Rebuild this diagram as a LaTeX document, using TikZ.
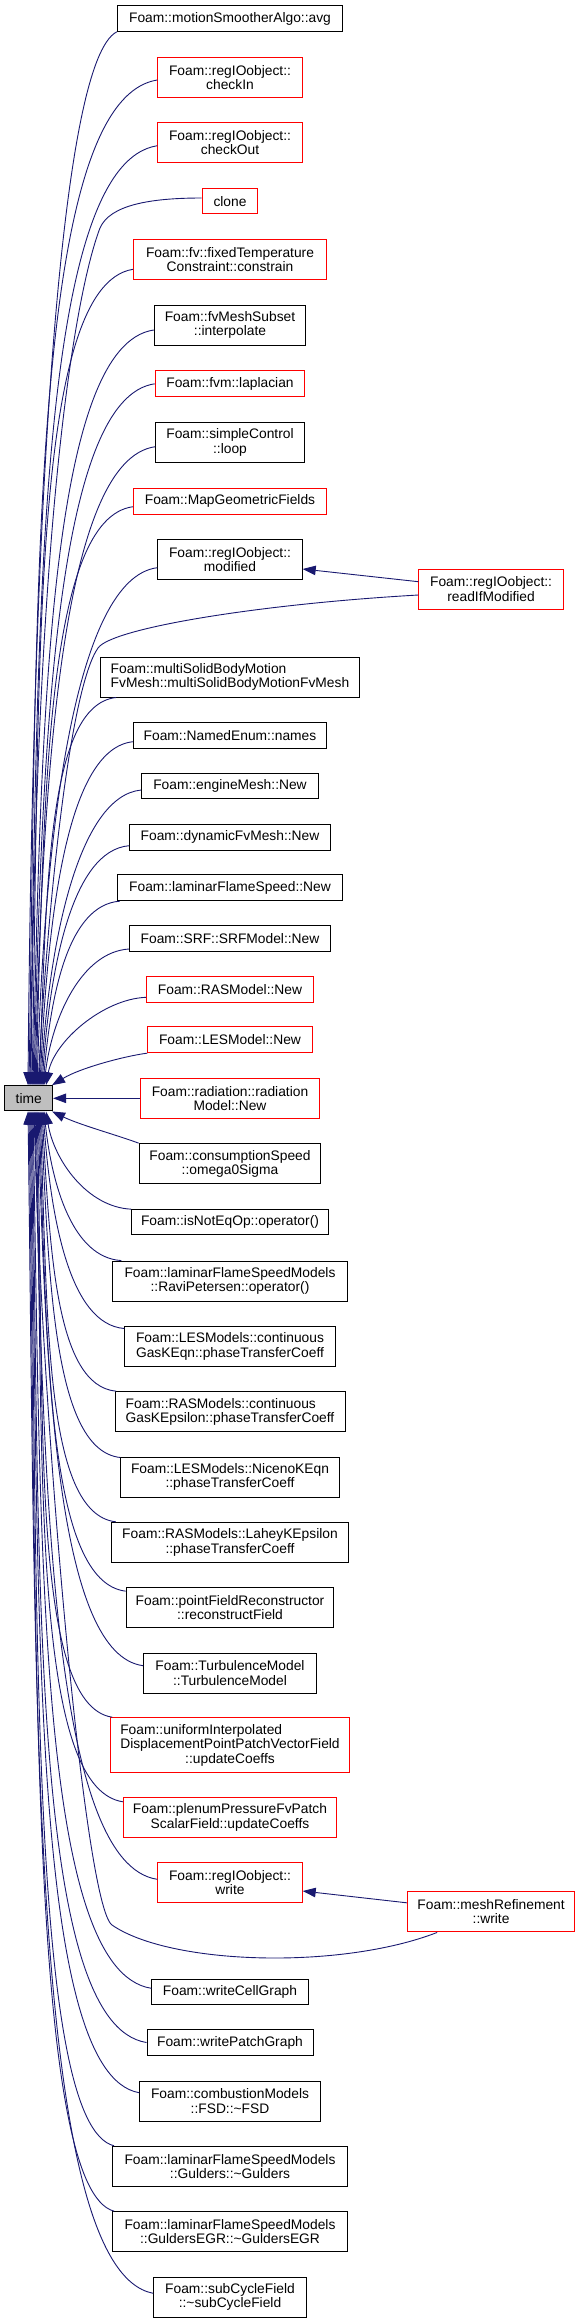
\documentclass[tikz,border=0pt]{standalone}
\usepackage{fontspec}
\setmainfont{Liberation Sans}
\usetikzlibrary{calc,arrows.meta}
\definecolor{edgecol}{HTML}{191970}
\definecolor{timefill}{HTML}{BFBFBF}
\definecolor{boxred}{HTML}{FF0000}
% caller edge: leaves the caller to the left, bends and runs steeply into the target
\newcommand\fanedge[3]{\draw[calleredge] let \p1=(#1), \p2=(#2), \n1={(#3)*(\y1-\y2)} in (\p1) .. controls ({max(30pt,\x1-0.09*\n1-35pt)},{\y1-(#3)*0.02*\n1}) and ({\x2+8pt},{\y2+(#3)*0.5*\n1}) .. (\p2);}
\begin{document}
\begin{tikzpicture}[x=1pt,y=-1pt,
  nbox/.style={draw=black, fill=white, line width=1pt, inner sep=0pt, align=center, font=\fontsize{13.8}{14.4}\selectfont},
  rbox/.style={nbox, draw=boxred},
  calleredge/.style={draw=edgecol, line width=0.9pt, -{Triangle[length=13pt,width=9.5pt]}}]
\useasboundingbox (0,0) rectangle (575,2323);
% nodes
\node[nbox, minimum width=225.2pt, minimum height=25.6pt] (avg) at (230,18.5) {Foam::motionSmootherAlgo::avg};
\node[rbox, minimum width=144.4pt, minimum height=40pt] (checkIn) at (230,77.3) {Foam::regIOobject::\\checkIn};
\node[rbox, minimum width=144.4pt, minimum height=40.4pt] (checkOut) at (230,142.5) {Foam::regIOobject::\\checkOut};
\node[rbox, minimum width=55.6pt, minimum height=25.3pt] (clone) at (230,201.3) {clone};
\node[rbox, minimum width=193pt, minimum height=40.3pt] (fixedT) at (230,259.8) {Foam::fv::fixedTemperature\\Constraint::constrain};
\node[nbox, minimum width=151.5pt, minimum height=40.3pt] (fvMesh) at (230,325.2) {Foam::fvMeshSubset\\::interpolate};
\node[rbox, minimum width=149.6pt, minimum height=25.7pt] (laplacian) at (230,383.8) {Foam::fvm::laplacian};
\node[nbox, minimum width=148.5pt, minimum height=39.6pt] (simpleControl) at (230,442.5) {Foam::simpleControl\\::loop};
\node[rbox, minimum width=193pt, minimum height=25.7pt] (mapGeo) at (230,501.2) {Foam::MapGeometricFields};
\node[nbox, minimum width=144.4pt, minimum height=40.3pt] (modified) at (230,559.8) {Foam::regIOobject::\\modified};
\node[rbox, minimum width=144.4pt, minimum height=40.3pt] (readIf) at (491.1,589.2) {Foam::regIOobject::\\readIfModified};
\node[nbox, align=left, minimum width=258.9pt, minimum height=40pt] (multiSolid) at (230,677) {Foam::multiSolidBodyMotion\\FvMesh::multiSolidBodyMotionFvMesh};
\node[nbox, minimum width=193pt, minimum height=25.7pt] (namedEnum) at (230,735.8) {Foam::NamedEnum::names};
\node[nbox, minimum width=176.6pt, minimum height=25.3pt] (engineMesh) at (230,786.3) {Foam::engineMesh::New};
\node[nbox, minimum width=200.8pt, minimum height=25.7pt] (dynMesh) at (230,837.2) {Foam::dynamicFvMesh::New};
\node[nbox, minimum width=225.2pt, minimum height=25.7pt] (lamFS) at (230,887.8) {Foam::laminarFlameSpeed::New};
\node[nbox, minimum width=200.8pt, minimum height=25.6pt] (srf) at (230,938.5) {Foam::SRF::SRFModel::New};
\node[rbox, minimum width=167pt, minimum height=25.7pt] (rasNew) at (230,989.2) {Foam::RASModel::New};
\node[rbox, minimum width=164.4pt, minimum height=25.7pt] (lesNew) at (230,1039.8) {Foam::LESModel::New};
\node[rbox, minimum width=179.2pt, minimum height=40pt] (radiation) at (230,1098.3) {Foam::radiation::radiation\\Model::New};
\node[nbox, fill=timefill, minimum width=47.8pt, minimum height=25.3pt] (time) at (28.7,1098.3) {time};
\node[nbox, minimum width=181.8pt, minimum height=40.3pt] (consumption) at (230,1163.8) {Foam::consumptionSpeed\\::omega0Sigma};
\node[nbox, minimum width=196.6pt, minimum height=25.3pt] (isNotEq) at (230,1222.3) {Foam::isNotEqOp::operator()};
\node[nbox, minimum width=234.4pt, minimum height=40.3pt] (ravi) at (230,1281.2) {Foam::laminarFlameSpeedModels\\::RaviPetersen::operator()};
\node[nbox, align=left, minimum width=210.4pt, minimum height=40.4pt] (lesCont) at (230,1346.5) {Foam::LESModels::continuous\\GasKEqn::phaseTransferCoeff};
\node[nbox, align=left, minimum width=230pt, minimum height=40.3pt] (rasCont) at (230,1411.8) {Foam::RASModels::continuous\\GasKEpsilon::phaseTransferCoeff};
\node[nbox, minimum width=218.2pt, minimum height=40pt] (niceno) at (230,1477) {Foam::LESModels::NicenoKEqn\\::phaseTransferCoeff};
\node[nbox, minimum width=237.4pt, minimum height=40pt] (lahey) at (230,1542.3) {Foam::RASModels::LaheyKEpsilon\\::phaseTransferCoeff};
\node[nbox, minimum width=207.8pt, minimum height=40.3pt] (pointField) at (230,1607.8) {Foam::pointFieldReconstructor\\::reconstructField};
\node[nbox, minimum width=172.6pt, minimum height=40pt] (turb) at (230,1673) {Foam::TurbulenceModel\\::TurbulenceModel};
\node[rbox, minimum width=239.6pt, minimum height=55pt] (uniform) at (230,1745.2) {\rlap{Foam::uniformInterpolated}\phantom{DisplacementPointPatchVectorField}\\DisplacementPointPatchVectorField\\::updateCoeffs};
\node[rbox, minimum width=213pt, minimum height=40pt] (plenum) at (230,1817.3) {Foam::plenumPressureFvPatch\\ScalarField::updateCoeffs};
\node[rbox, minimum width=144.4pt, minimum height=40pt] (regWrite) at (230,1882.3) {Foam::regIOobject::\\write};
\node[rbox, minimum width=167.4pt, minimum height=40.3pt] (meshRef) at (491.1,1911.8) {Foam::meshRefinement\\::write};
\node[nbox, minimum width=156.2pt, minimum height=25.3pt] (writeCell) at (230,1991.7) {Foam::writeCellGraph};
\node[nbox, minimum width=166pt, minimum height=25.6pt] (writePatch) at (230,2042.5) {Foam::writePatchGraph};
\node[nbox, minimum width=180.8pt, minimum height=40pt] (fsd) at (230,2101) {Foam::combustionModels\\::FSD::\textasciitilde FSD};
\node[nbox, minimum width=234.4pt, minimum height=40.4pt] (gulders) at (230,2166.5) {Foam::laminarFlameSpeedModels\\::Gulders::\textasciitilde Gulders};
\node[nbox, minimum width=234.4pt, minimum height=40.3pt] (guldersEGR) at (230,2231.8) {Foam::laminarFlameSpeedModels\\::GuldersEGR::\textasciitilde GuldersEGR};
\node[nbox, minimum width=152.6pt, minimum height=40pt] (subCycle) at (230,2297) {Foam::subCycleField\\::\textasciitilde subCycleField};
% upper edges
\draw[calleredge] (avg.south west) .. controls (60,60) and (33,500) .. ([xshift=-0.7pt]time.north);
\fanedge{[yshift=-2.7pt]checkIn.west}{[xshift=0.3pt]time.north}{1}
\fanedge{[yshift=-3.2pt]checkOut.west}{[xshift=1.3pt]time.north}{1}
\draw[calleredge] ([yshift=3.3pt]clone.west) .. controls (150,198) and (110,205) .. (100,228) .. controls (80,280) and (36,480) .. ([xshift=2.3pt]time.north);
\fanedge{[yshift=-9.5pt]fixedT.west}{[xshift=3.3pt]time.north}{1}
\fanedge{[yshift=-4.8pt]fvMesh.west}{[xshift=4.3pt]time.north}{1}
\fanedge{laplacian.west}{[xshift=5.3pt]time.north}{1}
\fanedge{[yshift=-4.2pt]simpleControl.west}{[xshift=6.3pt]time.north}{1}
\fanedge{[yshift=-5.5pt]mapGeo.west}{[xshift=7.3pt]time.north}{1}
\fanedge{[yshift=-7.9pt]modified.west}{[xshift=8.3pt]time.north}{1}
\draw[calleredge] ([yshift=-5.8pt]readIf.west) .. controls (260,604) and (112,628) .. (98,648) .. controls (70,688) and (48,900) .. ([xshift=9.3pt]time.north);
\fanedge{[xshift=16pt]multiSolid.south west}{[xshift=10.3pt]time.north}{1}
\fanedge{[yshift=-5.9pt]namedEnum.west}{[xshift=11.3pt]time.north}{1}
\fanedge{[yshift=-3.7pt]engineMesh.west}{[xshift=12.3pt]time.north}{1}
\fanedge{[yshift=-8.5pt]dynMesh.west}{[xshift=13.3pt]time.north}{1}
\fanedge{[xshift=3pt]lamFS.south west}{[xshift=14.3pt]time.north}{1}
\fanedge{[yshift=-10.5pt]srf.west}{[xshift=15.3pt]time.north}{1}
\fanedge{[yshift=-8.1pt]rasNew.west}{[xshift=17.3pt]time.north}{1}
\draw[calleredge] (lesNew.south west) .. controls (125,1056) and (80,1068) .. ([xshift=-1pt]time.north east);
\draw[calleredge] (radiation.west) -- (time.east);
% lower edges
\draw[calleredge] (consumption.north west) .. controls (120,1136) and (80,1125) .. ([xshift=-1pt]time.south east);
\fanedge{isNotEq.north west}{[xshift=17.3pt]time.south}{-1}
\fanedge{[xshift=9pt]ravi.north west}{[xshift=15.3pt]time.south}{-1}
\fanedge{[yshift=-2.7pt]lesCont.north west}{[xshift=14.3pt]time.south}{-1}
\fanedge{[xshift=1.5pt]rasCont.north west}{[xshift=13.3pt]time.south}{-1}
\fanedge{[yshift=-1pt]niceno.north west}{[xshift=12.3pt]time.south}{-1}
\fanedge{[xshift=5pt]lahey.north west}{[xshift=11.3pt]time.south}{-1}
\fanedge{[yshift=-4pt]pointField.north west}{[xshift=10.3pt]time.south}{-1}
\fanedge{[yshift=7.3pt]turb.west}{[xshift=9.3pt]time.south}{-1}
\fanedge{[xshift=2.6pt]uniform.north west}{[xshift=8.3pt]time.south}{-1}
\fanedge{[yshift=-5pt]plenum.north west}{[xshift=7.3pt]time.south}{-1}
\fanedge{[yshift=3pt]regWrite.west}{[xshift=6.3pt]time.south}{-1}
\draw[calleredge] ([xshift=-54pt]meshRef.south) .. controls (340,1970) and (170,1965) .. (112,1925) .. controls (84,1905) and (42,1420) .. ([xshift=5.3pt]time.south);
\fanedge{[yshift=3.4pt]writeCell.west}{[xshift=4.3pt]time.south}{-1}
\fanedge{writePatch.west}{[xshift=3.3pt]time.south}{-1}
\fanedge{[yshift=8.3pt]fsd.west}{[xshift=2.3pt]time.south}{-1}
\fanedge{[xshift=1.8pt]gulders.north west}{[xshift=1.3pt]time.south}{-1}
\fanedge{[xshift=1.8pt]guldersEGR.north west}{[xshift=0.3pt]time.south}{-1}
\fanedge{[yshift=3.7pt]subCycle.west}{[xshift=-0.7pt]time.south}{-1}
% inter edges
\draw[calleredge] ([yshift=7.5pt]readIf.west) -- ([yshift=-9.2pt]modified.east);
\draw[calleredge] ([yshift=9pt]meshRef.west) -- ([yshift=-8.7pt]regWrite.east);
\end{tikzpicture}
\end{document}
